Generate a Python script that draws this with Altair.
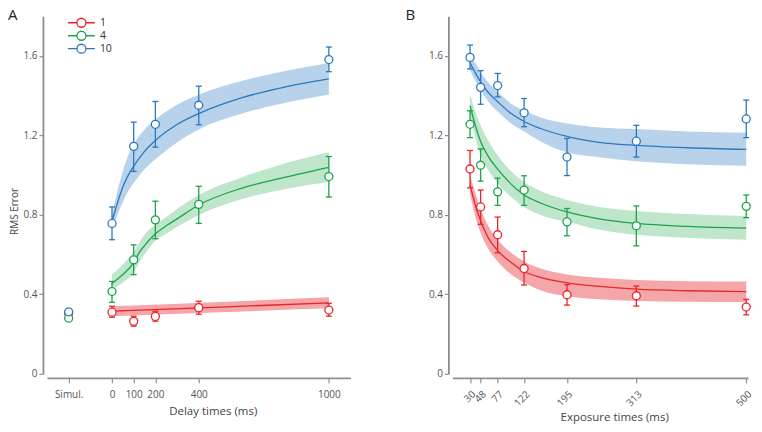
import altair as alt
import pandas as pd

FONT = "Open Sans"
SETS = ["1", "4", "10"]
LINE_COLORS = ["#e8262b", "#1ba44b", "#2a79be"]
BAND_COLORS = {"1": "#f5a6a8", "4": "#bfe5cb", "10": "#b8d2ec"}

# ---------------- Panel A : delay times ----------------
a_ticks = [-200, 0, 100, 200, 400, 1000]          # -200 stands for "Simul."
simul_x = -200
simul_vals = {"1": 0.305, "4": 0.28, "10": 0.312}
a_x = [0, 100, 200, 400, 1000]
a_mean = {"1": [0.31, 0.264, 0.289, 0.333, 0.321],
          "4": [0.414, 0.574, 0.775, 0.853, 0.993],
          "10": [0.757, 1.145, 1.256, 1.352, 1.582]}
a_lo = {"1": [0.285, 0.24, 0.265, 0.30, 0.29],
        "4": [0.36, 0.499, 0.68, 0.757, 0.89],
        "10": [0.675, 1.019, 1.141, 1.254, 1.521]}
a_hi = {"1": [0.34, 0.29, 0.315, 0.365, 0.355],
        "4": [0.465, 0.649, 0.869, 0.944, 1.094],
        "10": [0.84, 1.267, 1.371, 1.448, 1.645]}

a_fit_x = {"1": [0, 500, 1000],
           "4": [0, 50, 100, 125, 150, 200, 250, 300, 400, 600, 800, 1000],
           "10": [0, 25, 50, 75, 100, 150, 200, 300, 400, 600, 800, 1000]}
a_fit = {"1": [0.315, 0.336, 0.357],
         "4": [0.455, 0.50, 0.56, 0.61, 0.645, 0.705, 0.745, 0.78, 0.85, 0.935, 0.99, 1.04],
         "10": [0.765, 0.86, 0.94, 1.0, 1.045, 1.12, 1.175, 1.255, 1.31, 1.39, 1.445, 1.485]}
a_fit_hi = {"1": [0.34, 0.362, 0.385],
            "4": [0.50, 0.55, 0.615, 0.66, 0.70, 0.75, 0.79, 0.83, 0.90, 0.99, 1.06, 1.115],
            "10": [0.80, 0.92, 1.02, 1.10, 1.155, 1.23, 1.28, 1.355, 1.405, 1.475, 1.525, 1.565]}
a_fit_lo = {"1": [0.29, 0.31, 0.33],
            "4": [0.425, 0.46, 0.51, 0.56, 0.60, 0.67, 0.705, 0.74, 0.80, 0.88, 0.93, 0.965],
            "10": [0.735, 0.80, 0.865, 0.92, 0.96, 1.03, 1.08, 1.165, 1.23, 1.31, 1.365, 1.405]}

# ---------------- Panel B : exposure times ----------------
b_ticks = [30, 48, 77, 122, 195, 313, 500]
b_x = [30, 48, 77, 122, 195, 313, 500]
b_mean = {"1": [1.031, 0.84, 0.70, 0.53, 0.398, 0.393, 0.336],
          "4": [1.256, 1.05, 0.916, 0.925, 0.765, 0.745, 0.843],
          "10": [1.593, 1.442, 1.451, 1.314, 1.091, 1.171, 1.283]}
b_lo = {"1": [0.936, 0.752, 0.61, 0.447, 0.346, 0.341, 0.297],
        "4": [1.189, 0.97, 0.848, 0.848, 0.695, 0.644, 0.786],
        "10": [1.535, 1.357, 1.394, 1.244, 0.998, 1.091, 1.189]}
b_hi = {"1": [1.124, 0.925, 0.789, 0.616, 0.449, 0.442, 0.375],
        "4": [1.324, 1.132, 0.985, 0.997, 0.832, 0.845, 0.90],
        "10": [1.655, 1.526, 1.512, 1.386, 1.185, 1.251, 1.378]}

b_fit_x = [30, 40, 48, 60, 77, 100, 122, 150, 195, 250, 313, 400, 500]
b_fit = {"1": [0.95, 0.84, 0.77, 0.69, 0.62, 0.56, 0.515, 0.485, 0.458, 0.44, 0.426, 0.418, 0.414],
         "4": [1.35, 1.24, 1.17, 1.10, 1.03, 0.955, 0.90, 0.86, 0.815, 0.78, 0.757, 0.742, 0.733],
         "10": [1.565, 1.51, 1.47, 1.42, 1.37, 1.31, 1.27, 1.235, 1.195, 1.165, 1.15, 1.138, 1.13]}
b_fit_hi = {"1": [1.0, 0.90, 0.83, 0.75, 0.675, 0.61, 0.565, 0.53, 0.50, 0.483, 0.472, 0.466, 0.465],
            "4": [1.41, 1.31, 1.25, 1.18, 1.10, 1.02, 0.965, 0.92, 0.875, 0.84, 0.82, 0.805, 0.795],
            "10": [1.60, 1.56, 1.52, 1.47, 1.42, 1.36, 1.325, 1.29, 1.26, 1.24, 1.232, 1.22, 1.213]}
b_fit_lo = {"1": [0.905, 0.78, 0.71, 0.635, 0.565, 0.50, 0.46, 0.42, 0.39, 0.375, 0.367, 0.363, 0.362],
            "4": [1.30, 1.18, 1.10, 1.03, 0.96, 0.89, 0.84, 0.80, 0.765, 0.725, 0.70, 0.685, 0.675],
            "10": [1.53, 1.47, 1.43, 1.375, 1.32, 1.26, 1.22, 1.17, 1.115, 1.09, 1.07, 1.055, 1.047]}

y_ticks = [0, 0.2, 0.4, 0.6, 0.8, 1, 1.2, 1.4, 1.6, 1.8]


def points_df(xs, mean, lo, hi, simul=None):
    rows = []
    for s in SETS:
        if simul is not None:
            rows.append({"x": simul_x, "y": simul[s], "lo": None, "hi": None, "set": s})
        for x, m, l, h in zip(xs, mean[s], lo[s], hi[s]):
            rows.append({"x": x, "y": m, "lo": l, "hi": h, "set": s})
    return pd.DataFrame(rows)


def fit_df(xs_by_set, fit, hi, lo):
    rows = []
    for s in SETS:
        xs = xs_by_set[s] if isinstance(xs_by_set, dict) else xs_by_set
        for x, f, h, l in zip(xs, fit[s], hi[s], lo[s]):
            rows.append({"x": x, "fit": f, "up": h, "dn": l, "set": s})
    return pd.DataFrame(rows)


legend_symbol = "M-3,0L-1,0M1,0L3,0M1,0A1,1,0,1,1,-1,0A1,1,0,1,1,1,0"
LEGEND = alt.Legend(title=None, orient="none", legendX=29, legendY=1, padding=0,
                    symbolType=legend_symbol, symbolSize=81, symbolFillColor="white",
                    symbolStrokeWidth=1.3, labelFont=FONT, labelFontSize=10.5,
                    labelColor="#333", labelOffset=13, rowPadding=-2.5)
COLOR = alt.Color("set:N", scale=alt.Scale(domain=SETS, range=LINE_COLORS), legend=LEGEND)


def panel(pts, fits, x_scale, x_axis, y_axis, letter, dx):
    base_fit = alt.Chart(fits)
    layers = []
    for s in SETS:
        layers.append(
            base_fit.transform_filter(alt.datum.set == s).mark_area(
                interpolate="monotone", color=BAND_COLORS[s], opacity=1
            ).encode(x=alt.X("x:Q", scale=x_scale, axis=x_axis),
                     y=alt.Y("up:Q", scale=alt.Scale(domain=[0, 1.8]), axis=y_axis), y2="dn:Q")
        )
    layers.append(
        base_fit.mark_line(interpolate="monotone", strokeWidth=1.3).encode(
            x="x:Q", y="fit:Q", color=COLOR, detail="set:N"
        )
    )
    base_pts = alt.Chart(pts)
    eb = base_pts.transform_filter("isValid(datum.lo)")
    layers.append(eb.mark_rule(strokeWidth=1.3).encode(x="x:Q", y="lo:Q", y2="hi:Q", color=COLOR))
    for f in ["lo", "hi"]:
        layers.append(eb.mark_rule(strokeWidth=1.3, xOffset=-3, x2Offset=3).encode(
            x="x:Q", x2="x:Q", y=f"{f}:Q", color=COLOR))
    layers.append(base_pts.mark_point(filled=False, fill="white", opacity=1, size=64, strokeWidth=1.3).encode(
        x="x:Q", y="y:Q", color=COLOR,
    ))
    return alt.layer(*layers).properties(
        title=alt.TitleParams(letter, anchor="start", frame="group", dx=dx, fontSize=15,
                              fontWeight="normal", font=FONT, color="#222", offset=-7),
    )


axis_common = dict(labelFont=FONT, labelFontSize=10, labelColor="#555", titleFont=FONT,
                   titleFontWeight="normal", titleColor="#444",
                   domainColor="#8e8e8e", domainWidth=1.8, tickColor="#8e8e8e", tickWidth=1.2,
                   grid=False, offset=4, labelOverlap=False)

y_axis_A = alt.Axis(values=y_ticks, format="~g", title="RMS Error", tickSize=4, titlePadding=3,
                    titleFontSize=10, titleY=195, **axis_common)
y_axis_B = alt.Axis(values=y_ticks, format="~g", title=None, tickSize=4, **axis_common)

x_axis_A = alt.Axis(values=a_ticks, title="Delay times (ms)", tickSize=5, labelPadding=7,
                    labelExpr="datum.value == -200 ? 'Simul.' : format(datum.value, 'd')",
                    titleX=166, titleY=28, titleFontSize=11.5, **axis_common)
x_axis_B = alt.Axis(values=b_ticks, title="Exposure times (ms)", tickSize=5, labelAngle=-45,
                    labelPadding=6, format="d", titleX=162, titleY=34, titleFontSize=11.5,
                    **axis_common)

pts_A = points_df(a_x, a_mean, a_lo, a_hi, simul=simul_vals)
fits_A = fit_df(a_fit_x, a_fit, a_fit_hi, a_fit_lo)
pts_B = points_df(b_x, b_mean, b_lo, b_hi)
fits_B = fit_df(b_fit_x, b_fit, b_fit_hi, b_fit_lo)

chartA = panel(pts_A, fits_A, alt.Scale(domain=[-300, 1100], nice=False, zero=False),
               x_axis_A, y_axis_A, "A", -39).properties(width=304, height=358)
chartB = panel(pts_B, fits_B, alt.Scale(domain=[0, 503], nice=False, zero=False),
               x_axis_B, y_axis_B, "B", -47).properties(width=296, height=358)

chart = alt.hconcat(chartA, chartB, spacing=55).resolve_scale(x="independent", y="independent").configure(
    padding=0, background="white"
).configure_view(stroke=None)

chart.save("out.html", embed_options={"renderer": "svg", "actions": False})
